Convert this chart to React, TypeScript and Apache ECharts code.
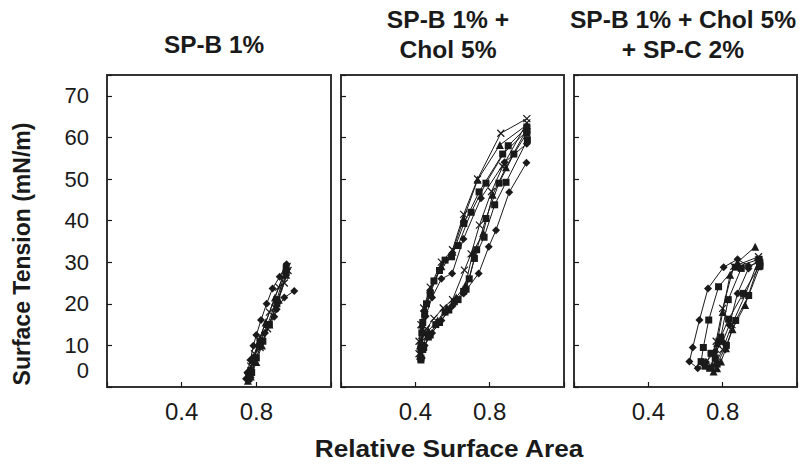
import React, { useEffect, useRef } from "react";
import * as echarts from "echarts";

// ---------- data ----------
const panelTitles = ["SP-B 1%", "SP-B 1% +\nChol 5%", "SP-B 1% + Chol 5%\n+ SP-C 2%"];
const xTickLabels = ["0.4", "0.8"];
const yTickLabels = ["0", "10", "20", "30", "40", "50", "60", "70"];
const xAxisTitle = "Relative Surface Area";
const yAxisTitle = "Surface Tension (mN/m)";

// Panel 1: SP-B 1%
const p1Diamond = [[0.962, 29.5], [0.925, 26.5], [0.887, 23.7], [0.855, 20], [0.825, 16.1], [0.8, 12.5], [0.784, 9.9], [0.768, 6.5], [0.752, 3.5], [0.745, 2], [0.76, 3], [0.78, 6.5], [0.81, 10], [0.846, 13], [0.896, 16.9], [0.909, 18.7], [0.95, 21.5], [1.003, 23.1]];
const p1Square = [[0.96, 28.5], [0.91, 21], [0.86, 15], [0.82, 11], [0.79, 7], [0.77, 4], [0.76, 2], [0.775, 3.5], [0.8, 7], [0.835, 11], [0.87, 15], [0.91, 20], [0.96, 27.5]];
const p1Cross = [[0.965, 29], [0.92, 24], [0.87, 18], [0.82, 12], [0.79, 8], [0.77, 5], [0.755, 2.5], [0.77, 3], [0.79, 6], [0.82, 9.5], [0.86, 14], [0.9, 19], [0.95, 25], [0.97, 28]];
const p1Triangle = [[0.955, 28], [0.9, 21.5], [0.85, 15.5], [0.81, 10.5], [0.785, 6.5], [0.765, 3.5], [0.755, 1.5], [0.77, 2.5], [0.8, 6], [0.83, 10], [0.87, 15], [0.92, 21], [0.96, 27]];

// Panel 2: SP-B 1% + Chol 5%
const p2Cross = [[1.0, 64.5], [0.86, 61], [0.735, 50], [0.66, 41.5], [0.6, 33], [0.54, 30], [0.48, 24], [0.445, 19], [0.43, 15], [0.42, 11], [0.42, 8], [0.435, 11], [0.46, 14], [0.5, 16.5], [0.55, 19], [0.6, 21], [0.664, 28.1], [0.7, 32], [0.745, 38.9], [0.81, 47], [0.87, 53], [1.0, 63.5]];
const p2Triangle = [[1.0, 63], [0.855, 58.2], [0.735, 49.8], [0.66, 40.5], [0.6, 32.5], [0.54, 29], [0.48, 23.5], [0.45, 19], [0.435, 15], [0.425, 10], [0.425, 7.5], [0.44, 10], [0.47, 13.5], [0.52, 16], [0.57, 19], [0.62, 21.5], [0.67, 24.5], [0.709, 32.3], [0.765, 37], [0.816, 46.2], [0.888, 52.8], [1.0, 62]];
const p2Square = [[1.0, 61.5], [0.87, 56], [0.743, 46.9], [0.661, 39.3], [0.595, 31.3], [0.53, 28], [0.48, 22.5], [0.45, 17.5], [0.435, 13], [0.43, 9], [0.43, 6.5], [0.445, 9.5], [0.48, 12.5], [0.53, 15.5], [0.58, 18.5], [0.63, 21], [0.673, 23.5], [0.718, 30.9], [0.77, 36], [0.827, 43.8], [0.888, 49.2], [1.003, 59.4]];
const p2Diamond = [[1.0, 58.5], [0.88, 54], [0.753, 45.4], [0.659, 35.6], [0.598, 27.3], [0.54, 26], [0.49, 21.5], [0.455, 17], [0.44, 13], [0.435, 9], [0.435, 7], [0.45, 10], [0.49, 13], [0.54, 16], [0.6, 19.5], [0.66, 22.5], [0.741, 27.3], [0.795, 33.7], [0.834, 37.7], [0.905, 46.8], [0.998, 53.9]];
const p2Square2 = [[1.0, 62.5], [0.9, 58], [0.78, 49], [0.7, 42], [0.63, 34], [0.56, 30.5], [0.5, 25.5], [0.46, 20], [0.44, 15.5], [0.43, 10], [0.43, 7], [0.44, 9], [0.47, 12], [0.51, 15], [0.56, 18], [0.61, 20.5], [0.66, 23], [0.69, 26], [0.73, 33], [0.78, 40.5], [0.85, 49], [0.93, 56], [1.0, 61]];

// Panel 3: SP-B 1% + Chol 5% + SP-C 2%
const p3Diamond = [[0.939, 29.1], [0.88, 30.7], [0.805, 28.8], [0.721, 23.7], [0.675, 16.1], [0.639, 9.5], [0.621, 6.1], [0.666, 4.5], [0.71, 6], [0.76, 8.5], [0.8, 10.9], [0.836, 14.9], [0.88, 22.5], [0.939, 28.5], [0.99, 30.5]];
const p3Square = [[0.996, 30.7], [0.868, 28.8], [0.778, 24.1], [0.725, 16.1], [0.696, 9.5], [0.684, 6.1], [0.705, 5], [0.737, 8.1], [0.78, 11], [0.832, 16.3], [0.911, 22.5], [1.0, 29.3]];
const p3Triangle = [[0.975, 33.7], [0.88, 30], [0.84, 27], [0.8, 18], [0.77, 10.5], [0.751, 3.7], [0.77, 4.5], [0.791, 6.1], [0.818, 9.3], [0.853, 13.9], [0.921, 19.7], [0.99, 29]];
const p3Cross = [[0.993, 31.3], [0.86, 29], [0.8, 18.9], [0.765, 11], [0.74, 5], [0.755, 5], [0.8, 9], [0.85, 15], [0.92, 22], [0.993, 30.5]];
const p3Square2 = [[1.0, 30], [0.9, 28.5], [0.83, 21], [0.79, 12], [0.76, 7], [0.73, 4.5], [0.77, 5.5], [0.82, 10], [0.87, 16], [0.94, 22], [1.0, 29]];

// ---------- chart ----------
const INK = "#1a1a1a";
const FONT = "'Liberation Sans', Arial, sans-serif";
const CROSS = "path://M0,0L10,10M10,0L0,10";

function mk(data: number[][], kind: string, idx: number) {
  const base: any = {
    type: "line",
    xAxisIndex: idx,
    yAxisIndex: idx,
    data,
    lineStyle: { color: INK, width: 1 },
    silent: true,
  };
  if (kind === "cross") {
    return { ...base, symbol: CROSS, symbolSize: 7, itemStyle: { color: "none", borderColor: INK, borderWidth: 1.2 } };
  }
  const sym = kind === "square" ? "rect" : kind;
  const size = kind === "diamond" ? 8 : kind === "square" ? 7 : 8;
  return { ...base, symbol: sym, symbolSize: size, itemStyle: { color: INK, borderWidth: 0 } };
}

const grids = [
  { left: 107, top: 75, width: 224, height: 312 },
  { left: 341, top: 75, width: 223, height: 312 },
  { left: 574, top: 75, width: 223, height: 312 },
];

const titleCenters = [214, 448, 683];
const titleScale = [1.06, 1.07, 1.07];

export default function App() {
  const ref = useRef<HTMLDivElement>(null);
  useEffect(() => {
    if (!ref.current) return;
    const chart = echarts.init(ref.current, undefined, { renderer: "svg" });
    const xAxes = grids.map((_, i) => ({
      type: "value",
      gridIndex: i,
      min: 0,
      max: 1.2,
      interval: 0.4,
      axisLine: { show: false },
      splitLine: { show: false },
      axisTick: { show: true, inside: true, length: 5, lineStyle: { color: INK, width: 1.2 } },
      axisLabel: {
        fontSize: 24,
        fontFamily: FONT,
        color: INK,
        margin: 12,
        formatter: (v: number) => {
          if (Math.abs(v - 0.4) < 1e-6) return xTickLabels[0];
          if (Math.abs(v - 0.8) < 1e-6) return xTickLabels[1];
          return "";
        },
      },
    }));
    const yAxes = grids.map((_, i) => ({
      type: "value",
      gridIndex: i,
      min: 0,
      max: 75,
      interval: 10,
      axisLine: { show: false },
      splitLine: { show: false },
      axisTick: { show: true, inside: true, length: 5, lineStyle: { color: INK, width: 1.2 } },
      axisLabel: {
        show: i === 0,
        fontSize: 22,
        fontFamily: FONT,
        color: INK,
        margin: 18,
        formatter: (v: number) => {
          if (v === 0 || v > 70) return "";
          return yTickLabels[Math.round(v / 10)];
        },
      },
    }));

    const series = [
      mk(p1Diamond, "diamond", 0),
      mk(p1Square, "square", 0),
      mk(p1Cross, "cross", 0),
      mk(p1Triangle, "triangle", 0),
      mk(p2Cross, "cross", 1),
      mk(p2Triangle, "triangle", 1),
      mk(p2Square, "square", 1),
      mk(p2Diamond, "diamond", 1),
      mk(p2Square2, "square", 1),
      mk(p3Diamond, "diamond", 2),
      mk(p3Square, "square", 2),
      mk(p3Triangle, "triangle", 2),
      mk(p3Cross, "cross", 2),
      mk(p3Square2, "square", 2),
    ];

    const boldText = { fontWeight: "bold", fontFamily: FONT, fill: INK };

    chart.setOption({
      animation: false,
      backgroundColor: "#ffffff",
      grid: grids.map((g) => ({ ...g, show: true, borderColor: "#333", borderWidth: 2, backgroundColor: "transparent" })),
      xAxis: xAxes,
      yAxis: yAxes,
      series,
      graphic: [
        ...panelTitles.map((t, i) => ({
          type: "text",
          x: titleCenters[i],
          y: i === 0 ? 45 : 35,
          scaleX: titleScale[i],
          style: {
            ...boldText,
            text: t,
            textAlign: "center",
            textVerticalAlign: "middle",
            fontSize: 23,
            lineHeight: 30,
          },
        })),
        {
          type: "text",
          x: 449,
          y: 449,
          scaleX: 1.14,
          style: { ...boldText, text: xAxisTitle, textAlign: "center", textVerticalAlign: "middle", fontSize: 23 },
        },
        {
          type: "text",
          x: 22,
          y: 254,
          rotation: Math.PI / 2,
          style: { ...boldText, text: yAxisTitle, textAlign: "center", textVerticalAlign: "middle", fontSize: 23 },
        },
        {
          // the "0" tick label sits above the bottom tick in the original figure
          type: "text",
          x: 89,
          y: 370,
          style: { text: yTickLabels[0], textAlign: "right", textVerticalAlign: "middle", fontSize: 22, fontFamily: FONT, fill: INK },
        },
      ],
    });
    return () => chart.dispose();
  }, []);
  return <div ref={ref} style={{ width: 800, height: 465, position: "absolute", left: 0, top: 0 }} />;
}
